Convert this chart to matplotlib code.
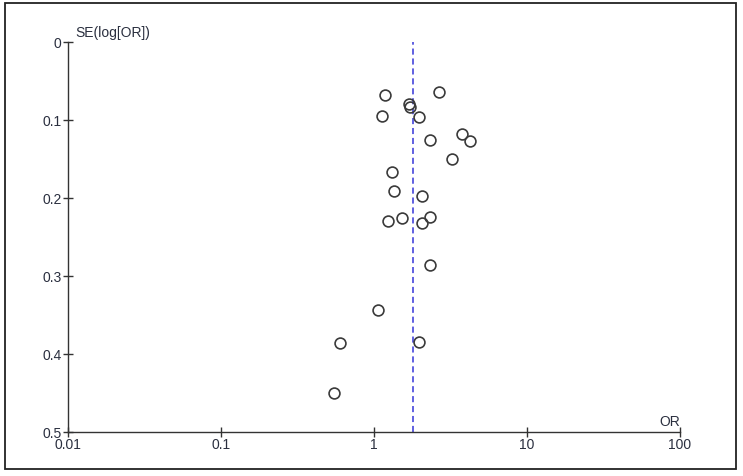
import numpy as np
import matplotlib
matplotlib.use('Agg')
import matplotlib.pyplot as plt
from matplotlib.patches import Rectangle

plt.rcParams['font.family'] = ['Liberation Sans', 'DejaVu Sans']
plt.rcParams['font.size'] = 10

## Data
odds_ratio = [1.18, 2.67, 1.70, 1.72, 1.12, 1.98, 2.31, 3.74, 4.22, 3.22, 1.31,
              1.35, 2.06, 1.24, 1.52, 2.31, 2.06, 2.31, 1.07, 0.60, 1.98, 0.55]
se_log_or = [0.068, 0.064, 0.080, 0.083, 0.095, 0.096, 0.126, 0.118, 0.127, 0.150, 0.167,
             0.191, 0.197, 0.229, 0.226, 0.224, 0.232, 0.286, 0.343, 0.386, 0.384, 0.450]
pooled_or = 1.80
x_ticks = [0.01, 0.1, 1, 10, 100]
x_tick_labels = ['0.01', '0.1', '1', '10', '100']
y_ticks = [0, 0.1, 0.2, 0.3, 0.4, 0.5]
y_tick_labels = ['0', '0.1', '0.2', '0.3', '0.4', '0.5']

W, H = 743, 476
fig = plt.figure(figsize=(W / 100, H / 100), dpi=100)
ax = fig.add_axes([68 / W, (H - 432) / H, 612 / W, 390 / H])

text_col = '#2a2f3f'
line_col = '#333333'

## frame round the whole picture
fig.patches.append(Rectangle((5 / W, (H - 469) / H), 731 / W, 466 / H,
                             transform=fig.transFigure, fill=False,
                             edgecolor='#222222', linewidth=1.3))

ax.plot(odds_ratio, se_log_or, 'o', markersize=7.8, markerfacecolor='none',
        markeredgecolor='#3a3a3a', markeredgewidth=1.2, clip_on=False, zorder=3)
ax.axvline(pooled_or, ymin=0, ymax=1, color='#3434d8', linestyle=(0, (4, 2.5)),
           linewidth=1.1, zorder=2)

ax.set_xscale('log')
ax.set_xlim(0.01, 100)
ax.set_ylim(0.5, 0)
ax.set_xticks(x_ticks)
ax.set_xticklabels(x_tick_labels)
ax.set_yticks(y_ticks)
ax.set_yticklabels(y_tick_labels)
ax.minorticks_off()
ax.tick_params(direction='inout', length=7, width=1.0, color=line_col,
               labelcolor=text_col, labelsize=10, pad=1)

for side in ['top', 'right']:
    ax.spines[side].set_visible(False)
for side in ['left', 'bottom']:
    ax.spines[side].set_color(line_col)
    ax.spines[side].set_linewidth(1.0)

ax.text(7 / 612, 1 + 9 / 390, 'SE(log[OR])', transform=ax.transAxes,
        ha='left', va='center', fontsize=10, color=text_col)
ax.text(1.0, 10.5 / 390, 'OR', transform=ax.transAxes,
        ha='right', va='center', fontsize=10, color=text_col)

fig.savefig('out.png', dpi=100)
